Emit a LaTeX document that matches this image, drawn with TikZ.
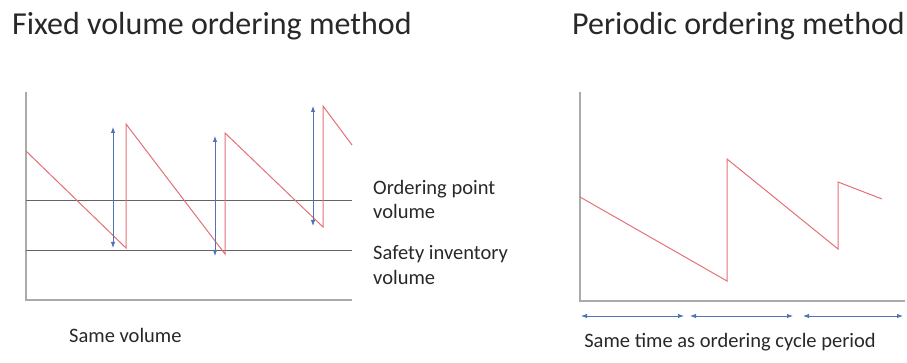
\documentclass[tikz,border=0pt]{standalone}
\usepackage{fontspec}
\setmainfont{Carlito}
\usetikzlibrary{arrows.meta,positioning}
\definecolor{saw}{RGB}{226,112,118}
\definecolor{arw}{RGB}{80,115,180}
\definecolor{axgray}{RGB}{170,170,170}
\definecolor{lvlgray}{RGB}{100,100,100}
\definecolor{txt}{RGB}{40,40,40}

\begin{document}
\begin{tikzpicture}[x=1pt, y=-1pt, >={Latex[length=6pt,width=4.5pt]},
  ttl/.style={anchor=base west,inner sep=0,font=\fontsize{32}{36}\selectfont,text=txt},
  lbl/.style={anchor=base west,inner sep=0,font=\fontsize{20.5}{24}\selectfont,text=txt},
  ax/.style={axgray,line width=1.2pt},
  lvl/.style={lvlgray,line width=1pt},
  stock/.style={saw,line width=1pt},
  qty/.style={<->,arw,line width=0.9pt}]
\useasboundingbox (0,0) rectangle (907,363);

% titles
\node[ttl] (fvtitle) at (12,35) {Fixed volume ordering method};
\node[ttl] (potitle) at (572,35) {Periodic ordering method};

% fixed volume chart
\coordinate (ly) at (26,92);
\coordinate (lo) at (26,300);
\coordinate (lx) at (352,300);
\draw[ax] (ly) -- (lo) -- (lx);

\coordinate (opa) at (26,201);
\coordinate (opb) at (352,201);
\coordinate (sia) at (26,251);
\coordinate (sib) at (352,251);
\draw[lvl] (opa) -- (opb);
\draw[lvl] (sia) -- (sib);

\draw[stock] (26,151) -- (126,248) -- (126,124) -- (225,254) -- (225,133)
  -- (323,227) -- (323,106) -- (352,145);

\draw[qty] (113,127) -- (113,248);
\draw[qty] (215,136) -- (215,256);
\draw[qty] (313,106) -- (313,226);

\node[lbl] (opl1) at (373,195) {Ordering point};
\node[lbl] (opl2) at (373,219) {volume};
\node[lbl] (sil1) at (373,260) {Safety inventory};
\node[lbl] (sil2) at (373,284) {volume};
\node[lbl] (samevol) at (69,342) {Same volume};

% periodic chart
\coordinate (ry) at (580,92);
\coordinate (ro) at (580,301);
\coordinate (rx) at (905,301);
\draw[ax] (ry) -- (ro) -- (rx);

\draw[stock] (580,197) -- (727,281) -- (727,159) -- (838,249) -- (838,182)
  -- (882,199);

\coordinate (p0) at (581,316);
\coordinate (p1) at (684,316);
\coordinate (p2) at (690,316);
\coordinate (p3) at (793,316);
\coordinate (p4) at (803,316);
\coordinate (p5) at (903,316);
\draw[qty] (p0) -- (p1);
\draw[qty] (p2) -- (p3);
\draw[qty] (p4) -- (p5);

\node[lbl,anchor=base] (sametime) at (730,347) {Same time as ordering cycle period};
\end{tikzpicture}
\end{document}
